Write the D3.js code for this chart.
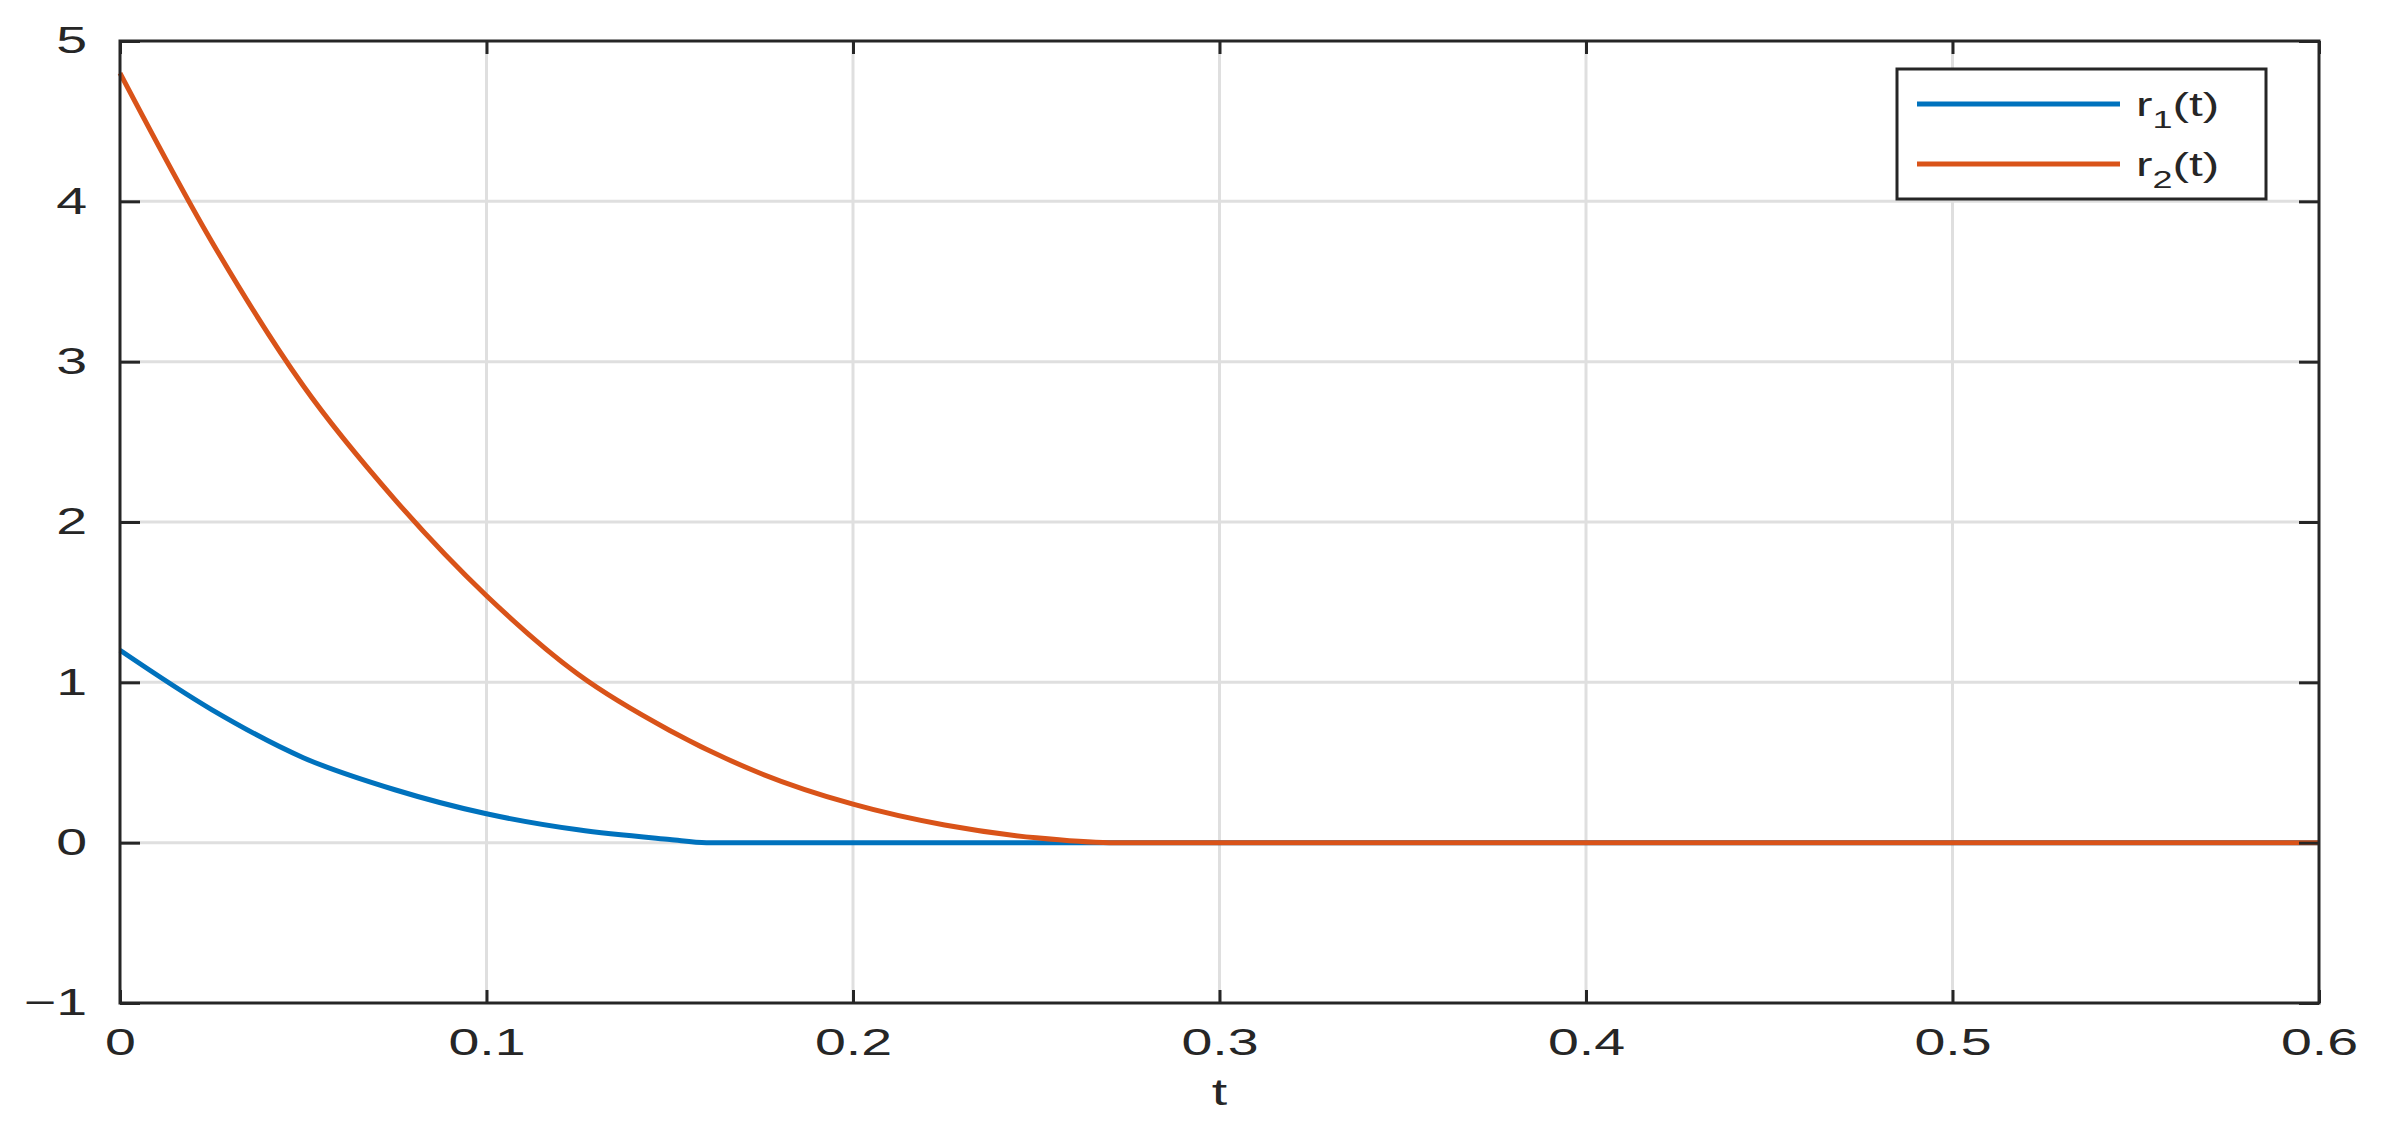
<!DOCTYPE html>
<html>
<head>
<meta charset="utf-8">
<script src="https://cdn.jsdelivr.net/npm/d3@7"></script>
<style>
  body { margin: 0; background: #fff; }
  text { font-family: Helvetica, "Liberation Sans", Arial, sans-serif; fill: #262626; }
</style>
</head>
<body>
<div id="chart"></div>
<script>
// data
const seriesNames = ["r1", "r2"];
const seriesColors = ["#0072BD", "#D95319"];
const r1T = [0, 0.025, 0.05, 0.075, 0.1, 0.125, 0.15, 0.16, 0.3, 0.6];
const r1V = [1.2, 0.83, 0.53, 0.33, 0.18, 0.08, 0.02, 0, 0, 0];
const r2T = [0, 0.025, 0.05, 0.075, 0.1, 0.125, 0.15, 0.175, 0.2, 0.225, 0.25, 0.27, 0.4, 0.6];
const r2V = [4.8, 3.75, 2.85, 2.14, 1.54, 1.05, 0.70, 0.43, 0.24, 0.11, 0.03, 0, 0, 0];
const xTicks = [0, 0.1, 0.2, 0.3, 0.4, 0.5, 0.6];
const yTicks = [-1, 0, 1, 2, 3, 4, 5];

const W = 2381, H = 1138;
const MARGIN = { top: 41, right: W - 2319, bottom: H - 1003, left: 120 };
const width = W - MARGIN.left - MARGIN.right;
const height = H - MARGIN.top - MARGIN.bottom;
const STRETCH = 1.5; // text in the reference is horizontally stretched

const svg = d3.select("#chart").append("svg").attr("width", W).attr("height", H);
const g = svg.append("g").attr("transform", `translate(${MARGIN.left},${MARGIN.top})`);

const x = d3.scaleLinear().domain([0, 0.6]).range([0, width]);
const y = d3.scaleLinear().domain([-1, 5]).range([height, 0]);

// grid
g.append("g").selectAll("line").data(xTicks.slice(1, -1)).join("line")
  .attr("x1", d => x(d)).attr("x2", d => x(d)).attr("y1", 0).attr("y2", height)
  .attr("stroke", "#dfdfdf").attr("stroke-width", 3);
g.append("g").selectAll("line").data(yTicks.slice(1, -1)).join("line")
  .attr("x1", 0).attr("x2", width).attr("y1", d => y(d)).attr("y2", d => y(d))
  .attr("stroke", "#dfdfdf").attr("stroke-width", 3);

// lines
const data = [r1T.map((t, i) => [t, r1V[i]]), r2T.map((t, i) => [t, r2V[i]])];
const line = d3.line().x(d => x(d[0])).y(d => y(d[1])).curve(d3.curveMonotoneX);
g.append("g").selectAll("path").data(data).join("path")
  .attr("d", line).attr("fill", "none")
  .attr("stroke", (d, i) => seriesColors[i]).attr("stroke-width", 5);

// axes (box style)
const axisStyle = sel => {
  sel.select(".domain").remove();
  sel.selectAll(".tick line").attr("stroke", "#262626").attr("stroke-width", 3);
  sel.selectAll(".tick text").attr("font-size", 37).attr("fill", "#262626")
    .attr("transform", `scale(${STRETCH},1)`);
};
g.append("g").attr("transform", `translate(0,${height})`)
  .call(d3.axisBottom(x).tickValues(xTicks).tickFormat(d3.format("")).tickSize(-13).tickPadding(26))
  .call(axisStyle);
g.append("g")
  .call(d3.axisTop(x).tickValues(xTicks).tickFormat("").tickSize(-13)).call(axisStyle);
g.append("g")
  .call(d3.axisLeft(y).tickValues(yTicks).tickFormat(d => d < 0 ? "\u2212" + (-d) : d).tickSize(-20).tickPadding(22))
  .call(axisStyle);
g.append("g").attr("transform", `translate(${width},0)`)
  .call(d3.axisRight(y).tickValues(yTicks).tickFormat("").tickSize(-20)).call(axisStyle);
g.append("rect").attr("width", width).attr("height", height)
  .attr("fill", "none").attr("stroke", "#262626").attr("stroke-width", 3);

g.append("text").attr("transform", `translate(${width / 2},${height + 102}) scale(${STRETCH},1)`)
  .attr("text-anchor", "middle").attr("font-size", 37).text("t");

// legend
const lg = svg.append("g").attr("transform", "translate(1897,69)");
lg.append("rect").attr("width", 369).attr("height", 130)
  .attr("fill", "#fff").attr("stroke", "#262626").attr("stroke-width", 3);
const items = lg.selectAll("g").data(seriesNames).join("g")
  .attr("transform", (d, i) => `translate(0,${35 + i * 60})`);
items.append("line").attr("x1", 20).attr("x2", 223)
  .attr("stroke", (d, i) => seriesColors[i]).attr("stroke-width", 5);
const tx = items.append("text").attr("transform", `translate(239,12) scale(${STRETCH},1)`)
  .attr("font-size", 33);
tx.append("tspan").text("r");
tx.append("tspan").attr("font-size", 24).attr("dy", 12).text((d, i) => i + 1);
tx.append("tspan").attr("dy", -12).text("(t)");
</script>
</body>
</html>
